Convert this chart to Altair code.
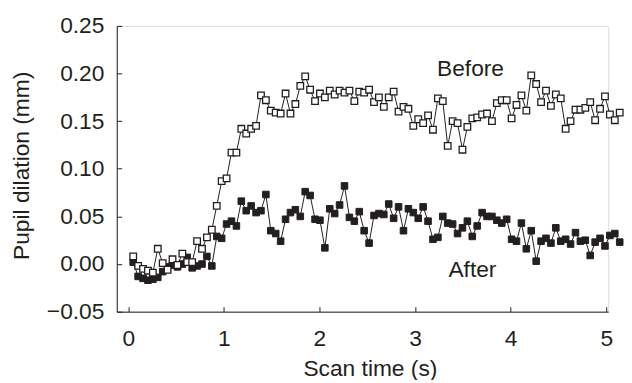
import altair as alt
import pandas as pd

# Pupil dilation (mm)
before = [0.008, -0.002, -0.005, -0.007, -0.009, 0.016, 0.001, -0.006, 0.005, -0.001,
          0.011, 0.002, 0.002, 0.024, 0.016, 0.028, 0.036, 0.061, 0.087, 0.090,
          0.117, 0.117, 0.142, 0.137, 0.142, 0.145, 0.177, 0.172, 0.161, 0.159,
          0.158, 0.179, 0.158, 0.168, 0.187, 0.197, 0.183, 0.171, 0.179, 0.175,
          0.182, 0.178, 0.182, 0.180, 0.182, 0.171, 0.181, 0.180, 0.183, 0.170,
          0.175, 0.165, 0.175, 0.181, 0.160, 0.165, 0.163, 0.145, 0.152, 0.148,
          0.156, 0.141, 0.174, 0.171, 0.124, 0.150, 0.148, 0.120, 0.144, 0.153,
          0.154, 0.157, 0.158, 0.150, 0.169, 0.172, 0.172, 0.153, 0.167, 0.177,
          0.161, 0.198, 0.189, 0.170, 0.182, 0.166, 0.178, 0.174, 0.142, 0.150,
          0.162, 0.162, 0.164, 0.170, 0.151, 0.163, 0.176, 0.157, 0.151, 0.159]

after = [0.002, -0.013, -0.015, -0.017, -0.016, -0.014, -0.008, -0.003, -0.001, -0.003,
         0.000, 0.007, -0.004, -0.002, 0.000, 0.008, -0.002, 0.029, 0.027, 0.042,
         0.045, 0.040, 0.066, 0.056, 0.061, 0.054, 0.056, 0.073, 0.035, 0.032,
         0.024, 0.047, 0.054, 0.057, 0.050, 0.076, 0.072, 0.047, 0.046, 0.017,
         0.058, 0.053, 0.062, 0.082, 0.049, 0.045, 0.055, 0.035, 0.022, 0.051,
         0.053, 0.052, 0.063, 0.048, 0.060, 0.035, 0.058, 0.054, 0.048, 0.060,
         0.045, 0.026, 0.028, 0.050, 0.043, 0.042, 0.032, 0.038, 0.045, 0.029,
         0.040, 0.054, 0.050, 0.050, 0.046, 0.043, 0.047, 0.026, 0.024, 0.043,
         0.016, 0.035, 0.003, 0.024, 0.027, 0.022, 0.038, 0.024, 0.026, 0.021,
         0.033, 0.024, 0.025, 0.009, 0.023, 0.027, 0.019, 0.030, 0.032, 0.023]

# sampling grid of the scan (s)
t_start = 0.052
t_step = 0.0514
times = [round(t_start + i * t_step, 4) for i in range(len(before))]

x_ticks = [0, 1, 2, 3, 4, 5]
y_ticks = [-0.05, 0.0, 0.05, 0.10, 0.15, 0.20, 0.25]
x_domain = [-0.12, 5.02]
y_domain = [-0.05, 0.25]

label_text = ["Before", "After"]
label_x = [3.58, 3.60]
label_y = [0.197, -0.0135]

INK = "#231f20"
FONT = "Liberation Sans"
FS = 23

n = len(before)
df = pd.DataFrame({
    "t": times + times,
    "v": before + after,
    "series": ["Before"] * n + ["After"] * n,
})
df_before = df[df.series == "Before"]
df_after = df[df.series == "After"]
df_lab = pd.DataFrame({"t": label_x, "v": label_y, "txt": label_text})

x_axis_main = alt.Axis(
    values=x_ticks, format="d", ticks=False, tickSize=0, grid=False,
    domainColor=INK, domainWidth=1, labelFont=FONT, labelFontSize=FS,
    labelColor=INK, labelPadding=16, title="Scan time (s)", titleFont=FONT,
    titleFontSize=FS, titleFontWeight="normal", titleColor=INK,
    titleX=256, titleY=65, titleAlign="center", titleBaseline="alphabetic",
)
y_axis_main = alt.Axis(
    values=y_ticks, format=".2f", ticks=False, tickSize=0, grid=False,
    domainColor=INK, domainWidth=1, labelFont=FONT, labelFontSize=FS,
    labelColor=INK, labelPadding=13, title="Pupil dilation (mm)", titleFont=FONT,
    titleFontSize=FS, titleFontWeight="normal", titleColor=INK,
    titleX=-96, titleY=141, titleAngle=270, titleAlign="center",
    titleBaseline="middle",
)

xs = alt.Scale(domain=x_domain, nice=False, zero=False)
ys = alt.Scale(domain=y_domain, nice=False, zero=False)

X = alt.X("t:Q", scale=xs, axis=x_axis_main)
Y = alt.Y("v:Q", scale=ys, axis=y_axis_main)

line_after = alt.Chart(df_after).mark_line(color=INK, strokeWidth=1).encode(x=X, y=Y)
pts_after = alt.Chart(df_after).mark_point(
    shape="square", filled=True, fill=INK, stroke=INK, strokeWidth=1, size=44, opacity=1
).encode(x=X, y=Y)
line_before = alt.Chart(df_before).mark_line(color=INK, strokeWidth=1).encode(x=X, y=Y)
pts_before = alt.Chart(df_before).mark_point(
    shape="square", filled=True, fill="white", stroke=INK, strokeWidth=1.3, size=44, opacity=1
).encode(x=X, y=Y)
labels = alt.Chart(df_lab).mark_text(
    font=FONT, fontSize=FS, color=INK, align="center", baseline="alphabetic"
).encode(x=X, y=Y, text="txt:N")

main = alt.layer(line_after, pts_after, line_before, pts_before, labels)

# inward-pointing ticks, drawn by a second axis pair on the same scales
tick_layer = alt.Chart(df_before).mark_point(opacity=0).encode(
    x=alt.X("t:Q", scale=xs, axis=alt.Axis(
        orient="top", offset=-289, values=x_ticks, labels=False, domain=False,
        grid=False, ticks=True, tickSize=5, tickWidth=1, tickColor=INK, title=None)),
    y=alt.Y("v:Q", scale=ys, axis=alt.Axis(
        orient="right", offset=-497, values=y_ticks, labels=False, domain=False,
        grid=False, ticks=True, tickSize=5, tickWidth=1, tickColor=INK, title=None)),
)

chart = alt.layer(main, tick_layer).resolve_axis(x="independent", y="independent").properties(
    width=497, height=289,
    padding={"left": 110, "top": 16, "right": 16, "bottom": 67},
    autosize="none",
).configure_view(stroke=None).configure(background="white")

chart.save("out.html", embed_options={"renderer": "svg", "actions": False})
